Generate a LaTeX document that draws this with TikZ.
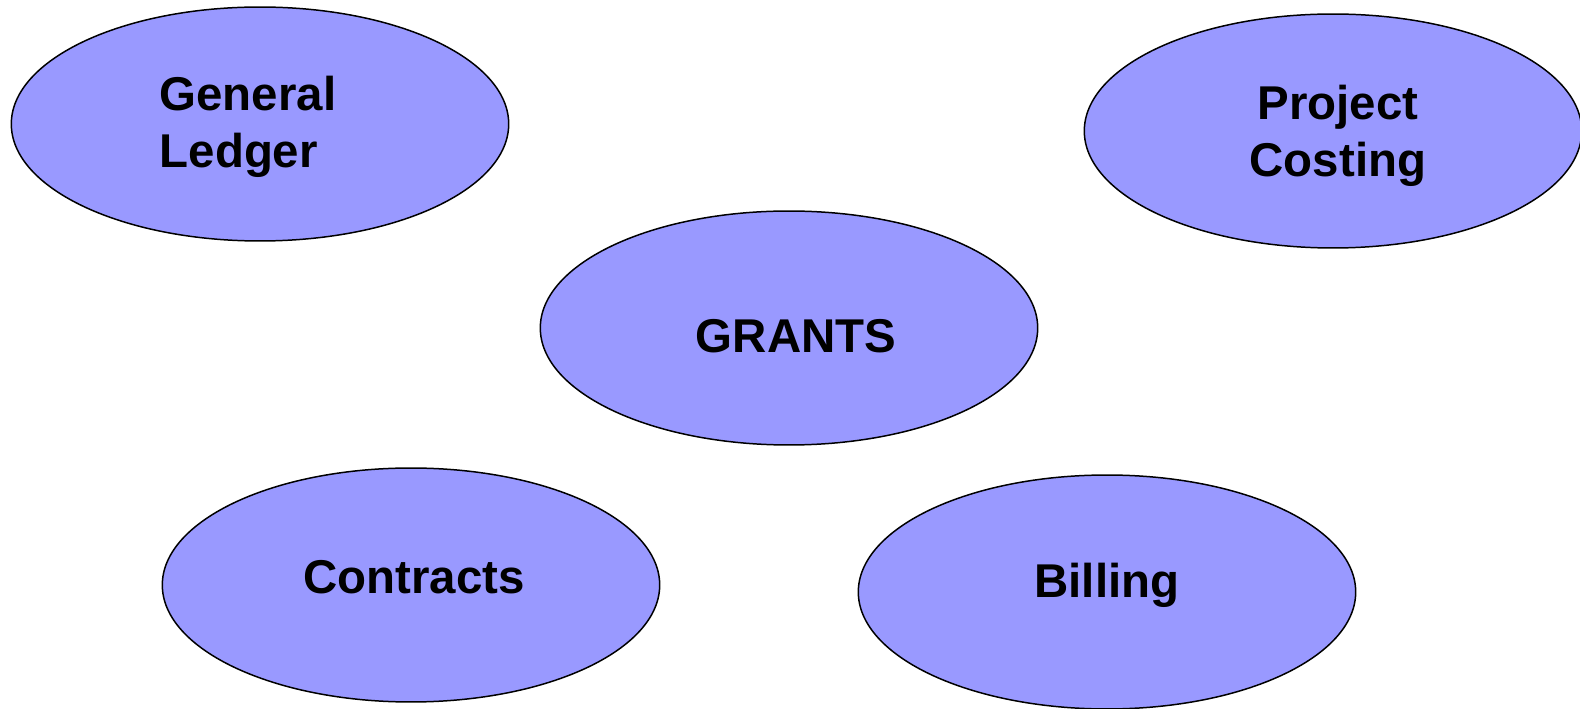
\documentclass[tikz,border=0pt]{standalone}
\usepackage{fontspec}
\setmainfont{Liberation Sans}
\usepackage{tikz}
\usetikzlibrary{shapes.geometric}
\definecolor{lilas}{RGB}{153,153,255}

\begin{document}
\begin{tikzpicture}[x=0.02cm,y=-0.02cm,
  bulle/.style={ellipse, draw=black, line width=0.85pt, fill=lilas, inner sep=0pt, minimum width=9.95cm, minimum height=4.68cm},
  mot/.style={font=\fontsize{27}{32.3}\selectfont\bfseries, inner sep=0pt}]
\useasboundingbox (0,0) rectangle (1580,709);
\node[bulle] (ledger) at (260,124) {};
\node[bulle] (costing) at (1333,131) {};
\node[bulle] (grants) at (789,328) {};
\node[bulle] (contracts) at (411,585) {};
\node[bulle] (billing) at (1107,592) {};
\node[mot, align=left] (ledgertxt) at (248,127) {General\\Ledger};
\node[mot, align=center] (costingtxt) at (1338,136) {Project\\Costing};
\node[mot] (grantstxt) at (796,336) {GRANTS};
\node[mot] (contractstxt) at (414,577) {Contracts};
\node[mot] (billingtxt) at (1107,585) {Billing};

\end{tikzpicture}
\end{document}
